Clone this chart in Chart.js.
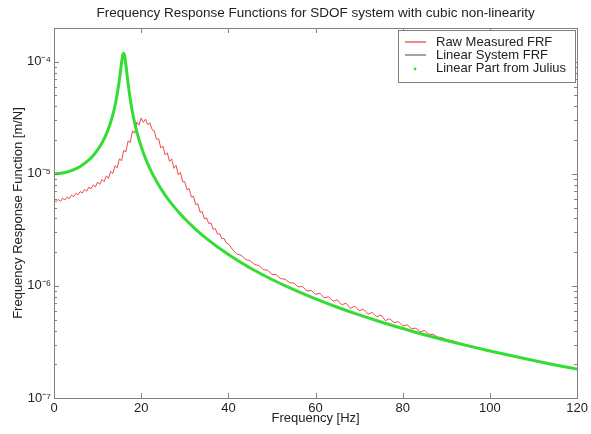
<!DOCTYPE html>
<html>
<head>
<meta charset="utf-8">
<script src="https://cdn.jsdelivr.net/npm/chart.js@4.4.1/dist/chart.umd.min.js"></script>
<style>
  html, body { margin: 0; padding: 0; background: #fff; }
</style>
</head>
<body>
<canvas id="frfChart" width="591" height="434"></canvas>
<script>
// linear SDOF FRF (also the "Julius" linear part, which lies on top of it)
const linFreq = [0, 2, 4, 6, 8, 9, 10, 11, 12, 12.5, 13, 13.5, 14, 14.5, 15, 15.5, 15.75, 16, 16.25, 16.5, 17, 17.5, 18, 18.5, 19,
  20, 21, 22, 23, 24, 25, 26, 27, 28, 29, 30, 32, 35,
  40, 45, 50, 55, 60, 65, 70, 75, 80, 85, 90, 95, 100, 105, 110, 115, 120];
const linFRF = [1.00e-5, 1.016e-5, 1.067e-5, 1.163e-5, 1.331e-5, 1.459e-5, 1.635e-5, 1.885e-5, 2.262e-5, 2.531e-5, 2.885e-5, 3.370e-5, 4.07e-5, 5.15e-5, 6.92e-5, 9.80e-5, 1.132e-4, 1.19e-4, 1.10e-4, 9.31e-5, 6.38e-5, 4.61e-5, 3.55e-5, 2.852e-5, 2.37e-5,
  1.748e-5, 1.368e-5, 1.113e-5, 9.32e-6, 7.96e-6, 6.91e-6, 6.07e-6, 5.40e-6, 4.84e-6, 4.37e-6, 3.97e-6, 3.33e-6, 2.64e-6,
  1.905e-6, 1.447e-6, 1.141e-6, 9.25e-7, 7.66e-7, 6.45e-7, 5.51e-7, 4.77e-7, 4.17e-7, 3.67e-7, 3.26e-7, 2.92e-7, 2.63e-7, 2.38e-7, 2.16e-7, 1.97e-7, 1.81e-7];
const juliusFRF = linFRF;

// raw measured FRF (noisy)
const rawFreq = [0, 0.5, 1, 1.5, 2, 2.5, 3, 3.5, 4, 4.5, 5, 5.5, 6, 6.5, 7, 7.5, 8, 8.5, 9, 9.5,
  10, 10.5, 11, 11.5, 12, 12.5, 13, 13.5, 14, 14.5, 15, 15.5, 16, 16.5, 17, 17.5, 18, 18.5, 19, 19.5,
  20, 20.5, 21, 21.5, 22, 22.5, 23, 23.5, 24, 24.5, 25, 25.5, 26, 26.5, 27, 27.5, 28, 28.5, 29, 29.5,
  30, 30.5, 31, 31.5, 32, 32.5, 33, 33.5, 34, 34.5, 35, 35.5, 36, 36.5, 37, 37.5, 38, 38.5, 39, 39.5, 40,
  41, 42, 43, 44, 45, 46, 47, 48, 49, 50, 51, 52, 53, 54, 55, 56, 57, 58, 59, 60,
  61, 62, 63, 64, 65, 66, 67, 68, 69, 70, 71, 72, 73, 74, 75, 76, 77, 78, 79, 80,
  81, 82, 83, 84, 85, 86, 87, 88, 89, 90, 92, 94, 96, 98, 100, 105, 110, 115, 120];
const rawFRF = [5.8e-6, 5.65e-6, 5.9e-6, 5.7e-6, 6.05e-6, 5.85e-6, 6.2e-6, 6.0e-6, 6.45e-6, 6.25e-6, 6.7e-6, 6.5e-6, 6.95e-6, 6.75e-6, 7.25e-6, 7.0e-6, 7.6e-6, 7.35e-6, 7.95e-6, 7.65e-6,
  8.45e-6, 8.05e-6, 8.9e-6, 8.5e-6, 9.6e-6, 9.1e-6, 1.05e-5, 1.01e-5, 1.18e-5, 1.13e-5, 1.36e-5, 1.31e-5, 1.62e-5, 1.57e-5, 1.97e-5, 1.90e-5, 2.42e-5, 2.30e-5, 2.90e-5, 2.72e-5,
  3.15e-5, 2.88e-5, 3.08e-5, 2.74e-5, 2.86e-5, 2.48e-5, 2.42e-5, 2.04e-5, 2.05e-5, 1.70e-5, 1.77e-5, 1.47e-5, 1.54e-5, 1.29e-5, 1.36e-5, 1.12e-5, 1.19e-5, 9.8e-6, 1.03e-5, 8.5e-6,
  8.5e-6, 7.2e-6, 7.4e-6, 6.2e-6, 6.3e-6, 5.3e-6, 5.4e-6, 4.55e-6, 4.6e-6, 3.95e-6, 4.05e-6, 3.6e-6, 3.65e-6, 3.2e-6, 3.25e-6, 2.9e-6, 2.92e-6, 2.65e-6, 2.65e-6, 2.42e-6, 2.38e-6,
  2.10e-6, 1.92e-6, 1.87e-6, 1.72e-6, 1.68e-6, 1.55e-6, 1.52e-6, 1.40e-6, 1.38e-6, 1.27e-6, 1.26e-6, 1.16e-6, 1.15e-6, 1.07e-6, 1.06e-6, 9.8e-7, 9.9e-7, 9.0e-7, 9.1e-7, 8.4e-7,
  8.6e-7, 7.8e-7, 8.0e-7, 7.3e-7, 7.5e-7, 6.8e-7, 7.0e-7, 6.3e-7, 6.6e-7, 6.0e-7, 6.2e-7, 5.6e-7, 5.8e-7, 5.3e-7, 5.5e-7, 4.9e-7, 5.1e-7, 4.7e-7, 4.8e-7, 4.4e-7,
  4.5e-7, 4.15e-7, 4.2e-7, 3.9e-7, 4.0e-7, 3.7e-7, 3.7e-7, 3.5e-7, 3.45e-7, 3.33e-7, 3.18e-7, 3.03e-7, 2.89e-7, 2.75e-7, 2.63e-7, 2.38e-7, 2.16e-7, 1.97e-7, 1.81e-7];

const xTicks = [0, 20, 40, 60, 80, 100, 120];
const yTicks = [1e-7, 1e-6, 1e-5, 1e-4];
const yTickLabels = ['10\u207B\u2077', '10\u207B\u2076', '10\u207B\u2075', '10\u207B\u2074'];

const FONT = 'Liberation Sans, Arial, Helvetica, sans-serif';
const TEXT = '#222';
const FRAME = '#808080';
const legendColors = ['#f06060', '#7d8a7d', '#33dd33'];

function pts(xs, ys) {
  return xs.map((x, i) => ({ x: x, y: ys[i] }));
}

// minor log ticks 2..9 inside each decade
var minorTicks = [];
for (var d of yTicks) {
  for (var m = 2; m <= 9; m++) {
    if (d * m <= 2e-4) minorTicks.push(d * m);
  }
}

var framePlugin = {
  id: 'framePlugin',
  afterDraw: function (chart) {
    var ctx = chart.ctx, a = chart.chartArea;
    var xs = chart.scales.x, ys = chart.scales.y;
    ctx.save();
    ctx.strokeStyle = FRAME;
    ctx.lineWidth = 1;
    ctx.beginPath();
    for (var v of xTicks) {
      var px = Math.round(xs.getPixelForValue(v)) + 0.5;
      ctx.moveTo(px, a.bottom); ctx.lineTo(px, a.bottom - 5);
      ctx.moveTo(px, a.top); ctx.lineTo(px, a.top + 5);
    }
    for (var v of yTicks) {
      var py = Math.round(ys.getPixelForValue(v)) + 0.5;
      ctx.moveTo(a.left, py); ctx.lineTo(a.left + 5, py);
      ctx.moveTo(a.right, py); ctx.lineTo(a.right - 5, py);
    }
    for (var v of minorTicks) {
      var py = Math.round(ys.getPixelForValue(v)) + 0.5;
      ctx.moveTo(a.left, py); ctx.lineTo(a.left + 3, py);
      ctx.moveTo(a.right, py); ctx.lineTo(a.right - 3, py);
    }
    ctx.stroke();
    ctx.strokeRect(Math.round(a.left) + 0.5, Math.round(a.top) + 0.5, Math.round(a.right - a.left), Math.round(a.bottom - a.top));

    // legend box, top right inside the axes
    var bx = 398.5, by = 30.5, bw = 177, bh = 52;
    ctx.fillStyle = '#fff';
    ctx.fillRect(bx, by, bw, bh);
    ctx.strokeRect(bx, by, bw, bh);
    ctx.font = '13px ' + FONT;
    ctx.textBaseline = 'middle';
    ctx.textAlign = 'left';
    var rows = [42, 55, 68];
    chart.data.datasets.forEach(function (ds, i) {
      var y = rows[i];
      if (i == 2) {
        ctx.fillStyle = legendColors[i];
        ctx.beginPath();
        ctx.arc(415, y + 1, 1.4, 0, Math.PI * 2);
        ctx.fill();
      } else {
        ctx.strokeStyle = legendColors[i];
        ctx.lineWidth = 1.5;
        ctx.beginPath();
        ctx.moveTo(405, y); ctx.lineTo(426, y);
        ctx.stroke();
      }
      ctx.fillStyle = TEXT;
      ctx.fillText(ds.label, 436, y);
    });
    ctx.restore();
  }
};

new Chart(document.getElementById('frfChart'), {
  type: 'line',
  data: {
    datasets: [{
      label: 'Raw Measured FRF',
      data: pts(rawFreq, rawFRF),
      borderColor: 'rgba(235, 45, 45, 0.85)',
      borderWidth: 1,
      pointRadius: 0,
      order: 3
    }, {
      label: 'Linear System FRF',
      data: pts(linFreq, linFRF),
      borderColor: '#5f6f5f',
      borderWidth: 1,
      pointRadius: 0,
      order: 2
    }, {
      label: 'Linear Part from Julius',
      data: pts(linFreq, juliusFRF),
      borderColor: '#33dd33',
      borderWidth: 3,
      pointRadius: 0,
      cubicInterpolationMode: 'monotone',
      order: 1
    }]
  },
  options: {
    responsive: false,
    animation: false,
    devicePixelRatio: 1,
    layout: { padding: { left: 0, right: 13, top: 0, bottom: 0 } },
    plugins: {
      legend: { display: false },
      tooltip: { enabled: false },
      title: {
        display: true,
        fullSize: false,
        text: 'Frequency Response Functions for SDOF system with cubic non-linearity',
        color: TEXT,
        font: { family: FONT, size: 13.5, weight: 'normal' },
        padding: { top: 5, bottom: 6.8 }
      }
    },
    scales: {
      x: {
        type: 'linear',
        min: 0,
        max: 120,
        afterBuildTicks: function (s) { s.ticks = xTicks.map(v => ({ value: v })); },
        afterFit: function (s) { s.height = 36; },
        grid: { display: false, drawTicks: false },
        border: { display: false },
        ticks: { autoSkip: false, maxRotation: 0, padding: 3, color: TEXT, font: { family: FONT, size: 13 } },
        title: { display: true, text: 'Frequency [Hz]', color: TEXT, font: { family: FONT, size: 13 }, padding: { top: 0, bottom: 8 } }
      },
      y: {
        type: 'logarithmic',
        min: 1e-7,
        max: 2e-4,
        afterBuildTicks: function (s) { s.ticks = yTicks.map(v => ({ value: v })); },
        afterFit: function (s) { s.width = 54; },
        grid: { display: false, drawTicks: false },
        border: { display: false },
        ticks: {
          autoSkip: false,
          padding: 3,
          color: TEXT,
          font: { family: FONT, size: 13 },
          callback: function (v) {
            var i = yTicks.findIndex(t => Math.abs(v / t - 1) < 1e-6);
            return i >= 0 ? yTickLabels[i] : '';
          }
        },
        title: { display: true, text: 'Frequency Response Function [m/N]', color: TEXT, font: { family: FONT, size: 13 }, padding: { top: 11, bottom: 0 } }
      }
    }
  },
  plugins: [framePlugin]
});
</script>
</body>
</html>
